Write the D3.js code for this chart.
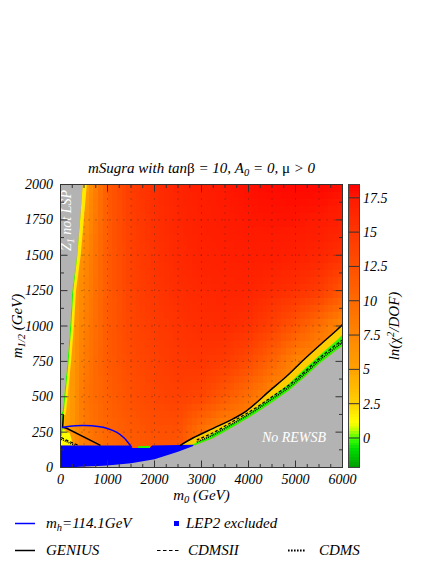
<!DOCTYPE html>
<html><head><meta charset="utf-8">
<script src="https://cdn.jsdelivr.net/npm/d3@7"></script>
<style>
body{margin:0;background:#fff}
svg text{font-family:"Liberation Serif","Times New Roman",Times,serif;font-style:italic;fill:#000}
</style></head>
<body><svg id="c" width="436" height="564" font-family="Liberation Serif, serif"></svg>
<script>
// ---------- data ----------
const m0Ticks = [0,1000,2000,3000,4000,5000,6000];
const m12Ticks = [0,250,500,750,1000,1250,1500,1750,2000];
const zTicks = [0,2.5,5,7.5,10,12.5,15,17.5];
const zDomain = [-2.15,18.47];
const zStops  = [-2.15,-0.8,0,0.6,1.2,2.5,5,7.5,10,12.5,15,17.5,18.47];
const zColors = ["#009a00","#00dc00","#3cff00","#c0ff00","#ffff00","#ffd200","#ffa200","#ff8600","#ff6a00","#ff5000","#ff3600","#ff1a00","#ff0000"];

// coarse map of ln(chi2/DOF)
const gridM0  = [0,500,1000,1500,2000,2500,3000,3500,4000,4500,5000,5500,6000];
const gridM12 = [0,250,500,750,1000,1250,1500,1750,2000];
const chi2Grid = [
  [4,8,9.5,10.5,11,11,9,7,7,7,7,7,7],
  [4,8.5,10.5,11.5,12.5,12.5,9,7,7,7,7,7,7],
  [3,9,11,12.5,13.5,14,13.5,11.5,9.5,7,7,7,7],
  [3,8.5,11.5,13,14,14.8,15,14.5,13,10.5,7.5,7,7],
  [3,8,11.5,13.5,14.5,15.3,15.8,16,15.5,14,12,9.5,7],
  [3,7.5,11.5,13.8,15,15.8,16.3,16.6,16.6,16,15.5,14.5,12],
  [3,7,11.5,14,15.3,16.2,16.8,17,17.2,17.2,17,16.5,15.5],
  [3,6,11.5,14.2,15.6,16.5,17,17.4,17.6,17.7,17.7,17.5,17],
  [3,5,11.5,14.5,15.8,16.7,17.2,17.6,17.9,18.1,18.2,18.2,18]
];

// left band (no-LSP side): [m12, gray edge m0, green edge m0, yellow edge m0]
const lspBand = [
  [2000,472,472,560],[1750,415,418,495],[1500,350,358,430],[1250,250,272,330],
  [1000,205,230,285],[750,150,172,225],[500,75,100,150],[400,45,72,120],[370,0,50,100]
];
// no-REWSB boundary and band
const rewsbEdge = [[0,0],[500,5],[1000,15],[1500,30],[2000,58],[2500,112],[2826,152],[3250,206],[3680,288],[4100,371],[4500,460],[4850,540],[5170,630],[5520,736],[5880,830],[6000,859]];
const greenTop  = [[2700,140],[2826,165],[3250,240],[3680,318],[4100,405],[4500,500],[4850,588],[5170,690],[5520,795],[5880,900],[6000,940]];
const geniusBand = [[2540,155],[2826,210],[3250,277],[3680,345],[3960,400],[4460,545],[4810,645],[5170,760],[5520,866],[5880,972],[6000,1010]];
const cdmsIIBand = [[2900,195],[3250,246],[3680,328],[4100,410],[4500,500],[4850,580],[5170,670],[5520,776],[5880,872],[6000,902]];
const cdmsBand   = [[2900,180],[3250,230],[3680,312],[4100,394],[4500,484],[4850,564],[5170,654],[5520,760],[5880,855],[6000,885]];
// low-left features
const lowYellow = [[0,155],[0,262],[60,270],[200,240],[270,155]];
const lowGreen  = [[0,220],[0,372],[50,372],[45,282],[30,220]];
const notchGreen = [[1650,138],[1650,150],[1900,153],[1900,138]];
const geniusLeft = [[62,372],[45,285],[130,277],[850,156]];
const cdmsIILeft = [[15,212],[150,190],[380,157]];
const cdmsLeft   = [[15,200],[120,185],[300,157]];
const higgsLine  = [[35,282],[200,292],[500,296],[800,290],[1000,276],[1200,248],[1350,210],[1450,172],[1520,140]];
const lep2Region = [[0,155],[1480,155],[1510,138],[1900,138],[1950,155],[2826,160],[2826,140],[2500,100],[2000,50],[1500,25],[1000,10],[0,0]];

// ---------- drawing ----------
const svg = d3.select("#c");
const L=60.5,R=342.5,T=184.5,B=467.5;
const x = d3.scaleLinear().domain([0,6000]).range([L,R]);
const y = d3.scaleLinear().domain([0,2000]).range([B,T]);
const color = d3.scaleLinear().domain(zStops).range(zColors).clamp(true);

svg.append("clipPath").attr("id","pc").append("rect").attr("x",L).attr("y",T).attr("width",R-L).attr("height",B-T);
const plot = svg.append("g").attr("clip-path","url(#pc)");

function interp(m0,m12){
  let i = Math.min(d3.bisectRight(gridM0,m0)-1, gridM0.length-2);
  let j = Math.min(d3.bisectRight(gridM12,m12)-1, gridM12.length-2);
  const tx=(m0-gridM0[i])/(gridM0[i+1]-gridM0[i]);
  const ty=(m12-gridM12[j])/(gridM12[j+1]-gridM12[j]);
  const a=chi2Grid[j][i],b=chi2Grid[j][i+1],c=chi2Grid[j+1][i],d=chi2Grid[j+1][i+1];
  return (a*(1-tx)+b*tx)*(1-ty)+(c*(1-tx)+d*tx)*ty;
}
const cw=100,ch=50;
const cells=[];
for(const m0 of d3.range(0,6000,cw)) for(const m12 of d3.range(0,2000,ch)) cells.push([m0,m12,interp(m0+cw/2,m12+ch/2)]);
plot.append("g").selectAll("rect").data(cells).join("rect")
  .attr("x",d=>x(d[0])).attr("y",d=>y(d[1]+ch))
  .attr("width",x(cw)-x(0)+0.4).attr("height",y(0)-y(ch)+0.4)
  .attr("fill",d=>color(d[2])).attr("shape-rendering","crispEdges");

const line = d3.line().x(d=>x(d[0])).y(d=>y(d[1]));
const poly = pts => line(pts)+"Z";

// dotted grid
const gridG = plot.append("g").attr("stroke","#222").attr("stroke-opacity",0.55).attr("stroke-dasharray","1,6");
gridG.selectAll("line.h").data(m12Ticks.slice(1,-1)).join("line").attr("x1",L).attr("x2",R).attr("y1",d=>y(d)).attr("y2",d=>y(d));
gridG.selectAll("line.v").data(d3.range(500,6000,500)).join("line").attr("y1",T).attr("y2",B).attr("x1",d=>x(d)).attr("x2",d=>x(d));

// left band
const lspGray = lspBand.map(d=>[d[1],d[0]]);
plot.append("path").attr("d",poly(lspGray.concat(lspBand.map(d=>[d[3],d[0]]).reverse()))).attr("fill",color(1.8));
plot.append("path").attr("d",poly(lspGray.concat(lspBand.map(d=>[d[2],d[0]]).reverse()))).attr("fill",color(-0.3));
// REWSB band
plot.append("path").attr("d",poly(rewsbEdge.filter(d=>d[0]>=2540).concat(geniusBand.slice().reverse()))).attr("fill",color(2.8));
plot.append("path").attr("d",poly(rewsbEdge.filter(d=>d[0]>=2700).concat(greenTop.slice().reverse()))).attr("fill",color(-0.2));
plot.append("path").attr("d",poly(lowYellow)).attr("fill",color(1.3));
plot.append("path").attr("d",poly(lowGreen)).attr("fill",color(-0.3));
plot.append("path").attr("d",poly(notchGreen)).attr("fill",color(-0.2));

// LEP2 excluded
plot.append("path").attr("d",poly(lep2Region)).attr("fill","#0000ff");
// gray regions
plot.append("path").attr("d",poly([[0,2000]].concat(lspGray).concat([[0,370]]))).attr("fill","#b3b3b3");
plot.append("path").attr("d",poly(rewsbEdge.concat([[6000,0],[0,0]]))).attr("fill","#b3b3b3");

// contour lines
const cl = d3.line().x(d=>x(d[0])).y(d=>y(d[1])).curve(d3.curveCatmullRom);
plot.append("path").attr("d",cl(geniusBand)).attr("fill","none").attr("stroke","#000").attr("stroke-width",1.5);
plot.append("path").attr("d",line(geniusLeft)).attr("fill","none").attr("stroke","#000").attr("stroke-width",1.5);
plot.append("path").attr("d",cl(cdmsIIBand)).attr("fill","none").attr("stroke","#000").attr("stroke-width",1.2).attr("stroke-dasharray","3,2");
plot.append("path").attr("d",cl(cdmsBand)).attr("fill","none").attr("stroke","#000").attr("stroke-width",1.6).attr("stroke-dasharray","1,1");
plot.append("path").attr("d",line(cdmsIILeft)).attr("fill","none").attr("stroke","#000").attr("stroke-width",1.2).attr("stroke-dasharray","3,2");
plot.append("path").attr("d",line(cdmsLeft)).attr("fill","none").attr("stroke","#000").attr("stroke-width",1.6).attr("stroke-dasharray","1,1");
plot.append("path").attr("d",cl(higgsLine)).attr("fill","none").attr("stroke","#0000ff").attr("stroke-width",1.5);

// region labels
svg.append("text").attr("x",294).attr("y",442).attr("text-anchor","middle").style("font-size","14px").style("fill","#fff").text("No REWSB");
const zl = svg.append("text").attr("transform","translate(71,251) rotate(-90)").style("font-size","14px").style("fill","#fff");
zl.append("tspan").text("Z\u0303");
zl.append("tspan").attr("dy",3).style("font-size","10px").text("1");
zl.append("tspan").attr("dy",-3).text(" not LSP");

// frame
svg.append("rect").attr("x",L).attr("y",T).attr("width",R-L).attr("height",B-T).attr("fill","none").attr("stroke","#333").attr("stroke-width",1);

// ticks
const tk = svg.append("g").attr("stroke","#333").attr("stroke-width",1);
const xMinor = d3.range(0,6001,250), yMinor = d3.range(0,2001,125);
xMinor.forEach(v=>{const len = v%1000===0?7:3.5;
  tk.append("line").attr("x1",x(v)).attr("x2",x(v)).attr("y1",B).attr("y2",B-len);
  tk.append("line").attr("x1",x(v)).attr("x2",x(v)).attr("y1",T).attr("y2",T+len);});
yMinor.forEach(v=>{const len = v%250===0?7:3.5;
  tk.append("line").attr("y1",y(v)).attr("y2",y(v)).attr("x1",L).attr("x2",L+len);
  tk.append("line").attr("y1",y(v)).attr("y2",y(v)).attr("x1",R).attr("x2",R-len);});

svg.append("g").selectAll("text").data(m0Ticks).join("text")
  .attr("x",d=>x(d)).attr("y",484).attr("text-anchor","middle").style("font-size","14px").text(d=>d);
svg.append("g").selectAll("text").data(m12Ticks).join("text")
  .attr("x",53).attr("y",d=>y(d)+4.5).attr("text-anchor","end").style("font-size","14px").text(d=>d);

// axis titles
const xt = svg.append("text").attr("x",(L+R)/2).attr("y",500).attr("text-anchor","middle").style("font-size","15px");
xt.append("tspan").text("m");xt.append("tspan").attr("dy",3).style("font-size","10.5px").text("0");xt.append("tspan").attr("dy",-3).text(" (GeV)");
const yt = svg.append("text").attr("transform",`translate(22,${(T+B)/2}) rotate(-90)`).attr("text-anchor","middle").style("font-size","15px");
yt.append("tspan").text("m");yt.append("tspan").attr("dy",3).style("font-size","10.5px").text("1/2");yt.append("tspan").attr("dy",-3).text(" (GeV)");

// title
const tt = svg.append("text").attr("x",(L+R)/2).attr("y",173).attr("text-anchor","middle").style("font-size","15px");
tt.append("tspan").text("mSugra with tan");
tt.append("tspan").style("font-style","normal").text("\u03b2");
tt.append("tspan").text(" = 10, A");
tt.append("tspan").attr("dy",3).style("font-size","10.5px").text("0");
tt.append("tspan").attr("dy",-3).text(" = 0, ");
tt.append("tspan").style("font-style","normal").text("\u03bc");
tt.append("tspan").text(" > 0");

// colour bar
const CL=348.5,CR=359.5;
const cy = d3.scaleLinear().domain(zDomain).range([B,T]);
const steps = d3.range(0,100);
const dz=(zDomain[1]-zDomain[0])/100;
svg.append("g").selectAll("rect").data(steps).join("rect")
  .attr("x",CL).attr("width",CR-CL)
  .attr("y",i=>cy(zDomain[0]+(i+1)*dz)).attr("height",cy(0)-cy(dz)+0.5)
  .attr("fill",i=>color(zDomain[0]+(i+0.5)*dz)).attr("shape-rendering","crispEdges");
svg.append("g").attr("stroke","#333").attr("stroke-width",1).selectAll("line").data(zTicks).join("line")
  .attr("x1",CL).attr("x2",CR).attr("y1",d=>cy(d)).attr("y2",d=>cy(d));
svg.append("rect").attr("x",CL).attr("y",T).attr("width",CR-CL).attr("height",B-T).attr("fill","none").attr("stroke","#444");
svg.append("g").selectAll("text").data(zTicks).join("text")
  .attr("x",363).attr("y",d=>cy(d)+5).style("font-size","14px").text(d=>d);
const zt = svg.append("text").attr("transform",`translate(399,${(T+B)/2}) rotate(-90)`).attr("text-anchor","middle").style("font-size","15px");
zt.append("tspan").text("ln(");
zt.append("tspan").style("font-style","normal").text("\u03c7");
zt.append("tspan").attr("dy",-5).style("font-size","10.5px").text("2");
zt.append("tspan").attr("dy",5).text("/DOF)");

// legend
const lg = svg.append("g");
lg.append("line").attr("x1",15).attr("x2",35).attr("y1",523.5).attr("y2",523.5).attr("stroke","#0000ff").attr("stroke-width",1.5);
const t1 = lg.append("text").attr("x",46).attr("y",528).style("font-size","15px");
t1.append("tspan").text("m");t1.append("tspan").attr("dy",3).style("font-size","10.5px").text("h");t1.append("tspan").attr("dy",-3).text("=114.1GeV");
lg.append("rect").attr("x",174).attr("y",521).attr("width",5).attr("height",5).attr("fill","#0000ff");
lg.append("text").attr("x",186).attr("y",528).style("font-size","15px").text("LEP2 excluded");
lg.append("line").attr("x1",15).attr("x2",35).attr("y1",550.5).attr("y2",550.5).attr("stroke","#000").attr("stroke-width",1.5);
lg.append("text").attr("x",46).attr("y",555).style("font-size","15px").text("GENIUS");
lg.append("line").attr("x1",157).attr("x2",180).attr("y1",550.5).attr("y2",550.5).attr("stroke","#000").attr("stroke-width",1.2).attr("stroke-dasharray","3.5,2.5");
lg.append("text").attr("x",188).attr("y",555).style("font-size","15px").text("CDMSII");
lg.append("line").attr("x1",288).attr("x2",305).attr("y1",550.5).attr("y2",550.5).attr("stroke","#000").attr("stroke-width",2.2).attr("stroke-dasharray","1.6,1.4");
lg.append("text").attr("x",319).attr("y",555).style("font-size","15px").text("CDMS");
</script></body></html>
